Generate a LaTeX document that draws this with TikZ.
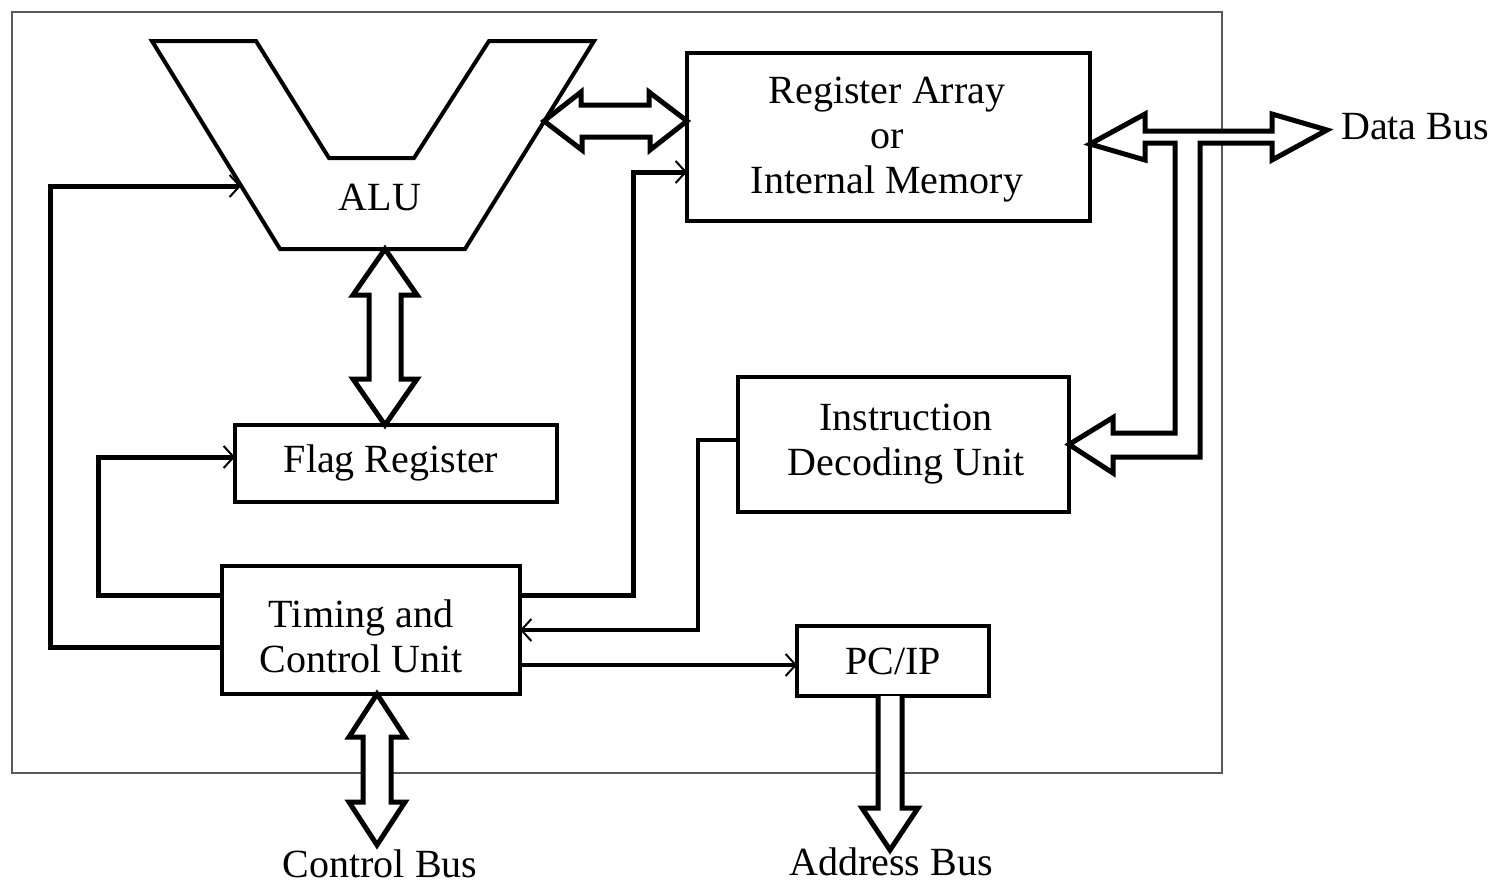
\documentclass[tikz,border=0pt]{standalone}
\usepackage{fontspec}
\setmainfont{Liberation Serif}
\usetikzlibrary{arrows.meta,calc}
\begin{document}
\begin{tikzpicture}[x=1pt,y=-1pt,
  box/.style={draw,line width=3.5pt,rectangle,inner sep=0pt,outer sep=0pt,align=center,font=\fontsize{40}{45}\selectfont},
  lbl/.style={inner sep=0pt,align=center,font=\fontsize{40}{45}\selectfont},
  bus/.style={draw,fill=white,line width=5pt,line join=miter},
  wire/.style={line width=5pt},
  thinwire/.style={line width=3.5pt},
  tip/.style={-{Straight Barb[length=10pt,width=22pt,line width=2pt]}}
]
\useasboundingbox (0,0) rectangle (1491,884);
% outer frame
\draw[line width=1.5pt,gray!70!black] (12,12) rectangle (1222,773);

% ALU
\draw[line width=4pt,fill=white] (152,41) -- (256,41) -- (329,158) -- (414,158) -- (489,41) -- (594,41) -- (465,249) -- (280,249) -- cycle;
\node[lbl] (alu) at (380,197) {ALU};
\coordinate (alus) at (385,249);
\coordinate (alur) at (544,121);
\coordinate (aluin) at (241,186);

% boxes
\node[box,minimum width=403pt,minimum height=168pt] (reg) at (888.5,137) {};
\node[lbl] (regt) at (887,140) {Register Array\\or\\Internal Memory};
\node[box,minimum width=322pt,minimum height=77pt] (flag) at (396,463.5) {};
\node[lbl] (flagt) at (391,463) {Flag Register};
\node[box,minimum width=298pt,minimum height=128pt] (tcu) at (371,630) {};
\node[lbl] (tcut) at (361,636) {Timing and\\Control Unit};
\node[box,minimum width=331pt,minimum height=135pt] (idu) at (903.5,444.5) {};
\node[lbl] (idut) at (906,444.5) {Instruction\\Decoding Unit};
\node[box,minimum width=192pt,minimum height=70pt] (pc) at (893,661) {PC/IP};

% outside labels
\node[lbl,anchor=west] (dbl) at (1341,127) {Data Bus};
\node[lbl] (cbl) at (380,864) {Control Bus};
\node[lbl] (abl) at (891,862) {Address Bus};

% thin connectors
\draw[wire,tip] ([yshift=-17pt]tcu.west) -- ++(-172,0) |- (aluin);
\draw[wire,tip] ([yshift=35pt]tcu.west) -- ++(-124,0) |- ([yshift=6.5pt]flag.west);
\draw[wire,tip] ([yshift=35pt]tcu.east) -- ++(113,0) |- ([yshift=-35pt]reg.west);
\draw[thinwire,line width=4pt,tip] ([yshift=4.5pt]idu.west) -- ++(-40,0) |- (tcu.east);
\draw[thinwire,tip] ([yshift=-35pt]tcu.east) coordinate (t3) -- (pc.west |- t3);

% hollow buses
\coordinate (regin) at ([yshift=16pt]reg.west);
\draw[bus] (alur) -- ++(37,-29) -- ++(0,13) -- ++(68,0) -- ++(0,-13) -- (regin)
  -- ++(-37,29) -- ++(0,-13) -- ++(-68,0) -- ++(0,13) -- cycle;

\coordinate (flagin) at ([xshift=-11pt]flag.north);
\draw[bus] (alus) -- ++(32,46) -- ++(-16,0) -- ++(0,84) -- ++(16,0) -- (flagin)
  -- ++(-32,-46) -- ++(16,0) -- ++(0,-84) -- ++(-16,0) -- cycle;

\coordinate (tcus) at ([xshift=6pt]tcu.south);
\coordinate (cbus) at (377,845);
\draw[bus] (tcus) -- ++(28,43) -- ++(-14,0) -- ++(0,65) -- ++(14,0) -- (cbus)
  -- ++(-28,-43) -- ++(14,0) -- ++(0,-65) -- ++(-14,0) -- cycle;

\coordinate (pcs) at ([xshift=-3pt]pc.south);
\coordinate (abus) at (890,850);
\draw[bus] ([xshift=-12pt]pcs) -- ++(0,112) -- ++(-16,0) -- (abus) -- ++(28,-42) -- ++(-16,0) -- ([xshift=12pt]pcs);

\coordinate (regout) at ([yshift=-7pt]reg.east);
\coordinate (dbus) at (1327,130);
\draw[bus] (regout) -- ++(55,-30) -- ++(0,17) -- ++(127,0) -- ++(0,-17) -- (dbus)
  -- ++(-55,30) -- ++(0,-17) -- ++(-72,0) -- ++(0,314) -- ++(-87,0) -- ++(0,16)
  -- (idu.east) -- ++(44,-27) -- ++(0,15.5) -- ++(62,0) -- ++(0,-290) -- ++(-30,0) -- ++(0,17) -- cycle;
\end{tikzpicture}
\end{document}
